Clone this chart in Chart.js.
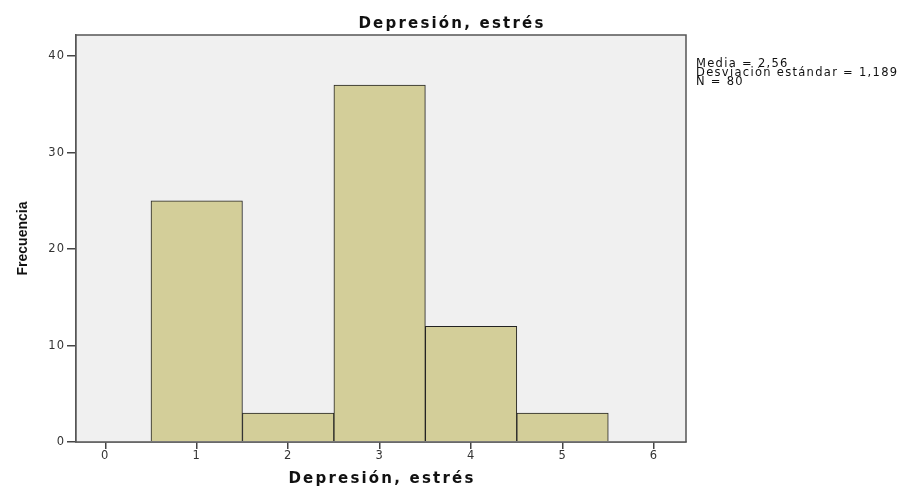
<!DOCTYPE html>
<html>
<head>
<meta charset="utf-8">
<script src="https://cdn.jsdelivr.net/npm/chart.js@4.4.1/dist/chart.umd.min.js"></script>
<style>
  html, body { margin: 0; padding: 0; background: #fff; }
  #wrap { width: 902px; height: 486px; }
</style>
</head>
<body>
<div id="wrap"><canvas id="hist" width="902" height="486"></canvas></div>
<script>
const binCenters = [1, 2, 3, 4, 5];
const frequencies = [25, 3, 37, 12, 3];
const xTicks = [0, 1, 2, 3, 4, 5, 6];
const yTicks = [0, 10, 20, 30, 40];
const chartTitle = "Depresión, estrés";
const xTitle = "Depresión, estrés";
const yTitle = "Frecuencia";
const statsLines = ["Media = 2,56", "Desviación estándar = 1,189", "N = 80"];

const FONT = "'DejaVu Sans', 'Liberation Sans', sans-serif";

const plotFrame = {
  id: "plotFrame",
  beforeDraw(chart) {
    // the reference text is set wide, so space the tick labels a bit
    chart.ctx.letterSpacing = "1px";
  },
  beforeDatasetsDraw(chart) {
    const { ctx, chartArea: a } = chart;
    ctx.save();
    ctx.fillStyle = "#f0f0f0";
    ctx.fillRect(a.left, a.top, a.right - a.left, a.bottom - a.top);
    ctx.restore();
  },
  afterDraw(chart) {
    const { ctx, chartArea: a } = chart;
    ctx.save();
    ctx.strokeStyle = "#555";
    ctx.lineWidth = 1.5;
    ctx.strokeRect(a.left, a.top, a.right - a.left, a.bottom - a.top);

    ctx.fillStyle = "#111";
    ctx.textAlign = "center";
    ctx.textBaseline = "alphabetic";
    ctx.letterSpacing = "2.2px";
    ctx.font = "bold 15px " + FONT;
    ctx.fillText(chartTitle, chart.width / 2 + 1, 28);
    ctx.fillText(xTitle, (a.left + a.right) / 2 + 1, 483);

    ctx.letterSpacing = "0px";
    ctx.font = "bold 14px 'Liberation Sans Narrow', 'Arial Narrow', sans-serif";
    ctx.save();
    ctx.translate(23, (a.top + a.bottom) / 2);
    ctx.rotate(-Math.PI / 2);
    ctx.textBaseline = "middle";
    ctx.fillText(yTitle, 0, 0);
    ctx.restore();

    ctx.textAlign = "left";
    ctx.letterSpacing = "1.3px";
    ctx.font = "11.5px " + FONT;
    statsLines.forEach((t, i) => ctx.fillText(t, a.right + 10, 67 + i * 9));
    ctx.restore();
  }
};

const ctx = document.getElementById("hist").getContext("2d");
new Chart(ctx, {
  type: "bar",
  data: {
    datasets: [{
      label: yTitle,
      data: binCenters.map((x, i) => ({ x: x, y: frequencies[i] })),
      backgroundColor: "#d3ce99",
      borderColor: "#222",
      borderWidth: 1,
      barPercentage: 1,
      categoryPercentage: 1
    }]
  },
  options: {
    responsive: false,
    animation: false,
    layout: { padding: { left: 0, right: 216, top: 35, bottom: 0 } },
    plugins: {
      legend: { display: false },
      tooltip: { enabled: false },
      title: { display: false }
    },
    scales: {
      x: {
        type: "linear",
        min: -0.32,
        max: 6.35,
        offset: false,
        afterBuildTicks(scale) { scale.ticks = xTicks.map(v => ({ value: v })); },
        afterFit(scale) { scale.height = 44; },
        ticks: { color: "#333", font: { family: FONT, size: 11.5 }, padding: 0 },
        grid: { offset: false, drawOnChartArea: false, drawTicks: true, tickLength: 7, color: "#444", lineWidth: 1.5 },
        border: { display: true, color: "#555", width: 1.5 }
      },
      y: {
        type: "linear",
        min: 0,
        max: 42.2,
        afterBuildTicks(scale) { scale.ticks = yTicks.map(v => ({ value: v })); },
        afterFit(scale) { scale.width = 76; },
        ticks: { color: "#333", font: { family: FONT, size: 11.5 }, padding: 2 },
        grid: { drawOnChartArea: false, drawTicks: true, tickLength: 9, color: "#444", lineWidth: 1.5 },
        border: { display: true, color: "#555", width: 1.5 }
      }
    }
  },
  plugins: [plotFrame]
});
</script>
</body>
</html>
